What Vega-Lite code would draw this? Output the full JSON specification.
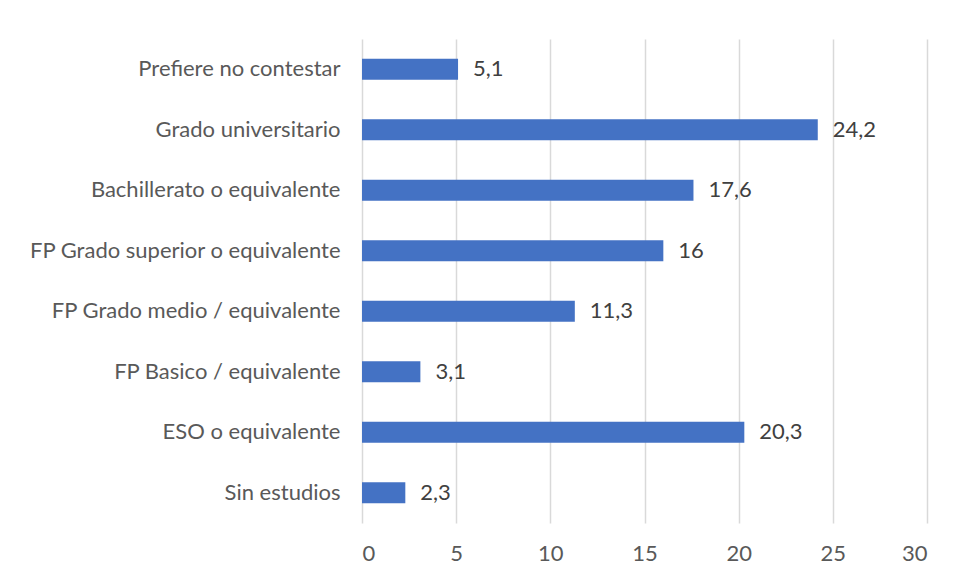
{
  "$schema": "https://vega.github.io/schema/vega-lite/v6.json",
  "width": 565,
  "height": 484,
  "autosize": {"type": "none"},
  "padding": {"left": 362, "top": 39, "right": 30, "bottom": 55},
  "background": "white",
  "config": {
    "view": {"stroke": null},
    "font": "Lato",
    "locale": {"number": {"decimal": ",", "thousands": ".", "grouping": [3], "currency": ["", " €"]}}
  },
  "data": {
    "values": [
      {"nivel": "Prefiere no contestar", "valor": 5.1},
      {"nivel": "Grado universitario", "valor": 24.2},
      {"nivel": "Bachillerato o equivalente", "valor": 17.6},
      {"nivel": "FP Grado superior o equivalente", "valor": 16},
      {"nivel": "FP Grado medio / equivalente", "valor": 11.3},
      {"nivel": "FP Basico / equivalente", "valor": 3.1},
      {"nivel": "ESO o equivalente", "valor": 20.3},
      {"nivel": "Sin estudios", "valor": 2.3}
    ]
  },
  "encoding": {
    "y": {
      "field": "nivel", "type": "nominal", "sort": null,
      "scale": {"paddingInner": 0.65, "paddingOuter": 0.325},
      "axis": {"title": null, "ticks": false, "domain": false, "labelFontSize": 22, "labelColor": "#595959", "labelPadding": 22, "labelFont": "Lato", "labelLimit": 400}
    },
    "x": {
      "field": "valor", "type": "quantitative",
      "scale": {"domain": [0, 30], "nice": false},
      "axis": {"title": null, "values": [0, 5, 10, 15, 20, 25, 30], "ticks": false, "domain": false, "grid": true, "gridColor": "#d9d9d9", "gridWidth": 1.5, "labelFontSize": 22, "labelColor": "#595959", "labelPadding": 20, "labelFont": "Lato", "format": "d"}
    }
  },
  "layer": [
    {"mark": {"type": "bar", "color": "#4472C4"}},
    {
      "mark": {"type": "text", "align": "left", "baseline": "middle", "dx": 15, "fontSize": 22, "color": "#404040", "font": "Lato"},
      "encoding": {"text": {"field": "valor", "type": "quantitative", "format": ".1~f"}}
    }
  ]
}
